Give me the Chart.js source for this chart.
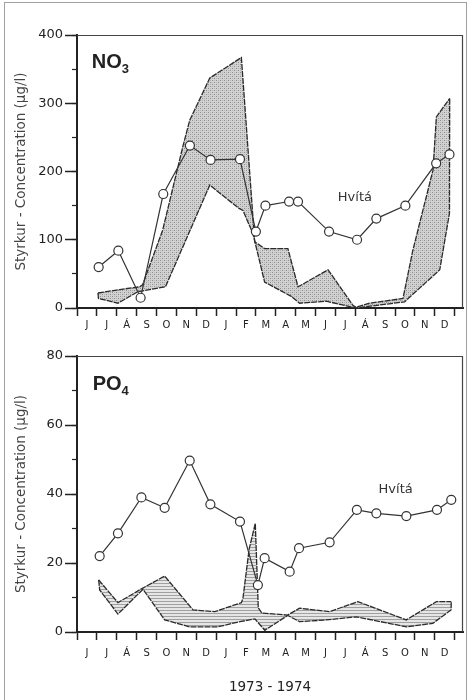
<!DOCTYPE html>
<html>
<head>
<meta charset="utf-8">
<script src="https://cdn.jsdelivr.net/npm/chart.js@4.4.0/dist/chart.umd.min.js"></script>
<style>
  body { margin: 0; background: #fff; width: 470px; height: 700px; overflow: hidden; position: relative; }
  #border { position: absolute; left: 4px; top: 2px; width: 461px; height: 720px; border: 1px solid #a0a0a0; }
  canvas { position: absolute; left: 0; }
  #no3 { top: 0; }
  #po4 { top: 340px; }
</style>
</head>
<body>
<div id="border"></div>
<canvas id="no3" width="470" height="340"></canvas>
<canvas id="po4" width="470" height="360"></canvas>
<script>
// months Jun 1973 - Dec 1974, one label per month band
var months = ["J", "J", "Á", "S", "O", "N", "D", "J", "F", "M", "A", "M", "J", "J", "Á", "S", "O", "N", "D"];
var yTitle = "Styrkur - Concentration (µg/l)";

// NO3 - Hvítá (x = months since 1 June 1973)
var no3HvitaX = [1.09, 2.08, 3.2, 4.34, 5.68, 6.72, 8.2, 9.0, 9.48, 10.67, 11.12, 12.68, 14.09, 15.06, 16.52, 18.07, 18.74];
var no3HvitaY = [60, 84, 15, 167, 238, 217, 218, 112, 150, 156, 156, 112, 100, 131, 150, 212, 225];
// NO3 - shaded range
var no3UpperX = [1.055, 2.15, 3.15, 3.3, 4.31, 5.32, 5.67, 6.68, 8.27, 8.94, 9.44, 10.61, 11.12, 12.63, 13.88, 14.04, 14.72, 16.4, 16.9, 17.91, 18.08, 18.75];
var no3UpperY = [22, 27, 31, 34, 114, 236, 275, 337, 367, 97, 87, 87, 31, 56, 4, 1, 7, 14, 85, 202, 280, 307];
var no3LowerX = [1.055, 1.08, 2.06, 3.07, 4.45, 6.68, 8.15, 8.35, 8.85, 9.44, 10.78, 11.2, 12.54, 14.02, 16.48, 18.25, 18.74, 18.75];
var no3LowerY = [22, 14, 7, 24, 31, 180, 146, 143, 109, 38, 17, 7, 10, 0, 9, 56, 139, 307];

// PO4 - Hvítá
var po4HvitaX = [1.14, 2.06, 3.24, 4.41, 5.67, 6.71, 8.2, 9.1, 9.44, 10.7, 11.17, 12.71, 14.08, 15.06, 16.57, 18.11, 18.83];
var po4HvitaY = [22, 28.6, 39, 36, 49.7, 37, 32, 13.6, 21.4, 17.5, 24.3, 26, 35.4, 34.4, 33.6, 35.4, 38.3];
// PO4 - shaded range
var po4UpperX = [1.09, 2.06, 3.15, 4.41, 5.84, 6.93, 8.27, 8.35, 8.66, 8.97, 9.12, 9.3, 10.6, 11.2, 12.71, 14.13, 16.57, 18.08, 18.83];
var po4UpperY = [15.1, 8.5, 12.2, 16.2, 6.4, 5.9, 8.5, 9.8, 24, 31.5, 7, 5.5, 4.9, 6.9, 5.9, 8.8, 3.5, 8.8, 8.8];
var po4LowerX = [1.09, 1.14, 2.06, 3.32, 4.41, 5.67, 7.08, 8.2, 8.95, 9.45, 10.6, 11.2, 12.54, 14.05, 16.57, 17.9, 18.82, 18.83];
var po4LowerY = [15.1, 12.2, 5.2, 12.4, 3.5, 1.5, 1.5, 3, 3.8, 0.5, 4.8, 3, 3.5, 4.4, 1.5, 2.5, 6.4, 8.8];

function pts(xs, ys) {
  return xs.map(function (x, i) { return { x: x, y: ys[i] }; });
}

function dotPattern() {
  var c = document.createElement("canvas");
  c.width = 4; c.height = 4;
  var g = c.getContext("2d");
  g.fillStyle = "#d2d2d2"; g.fillRect(0, 0, 4, 4);
  g.fillStyle = "#8e8e8e"; g.fillRect(0, 0, 1, 1); g.fillRect(2, 2, 1, 1);
  g.fillStyle = "#b4b4b4"; g.fillRect(2, 0, 1, 1); g.fillRect(0, 2, 1, 1);
  return g.createPattern(c, "repeat");
}

function linePattern() {
  var c = document.createElement("canvas");
  c.width = 4; c.height = 3;
  var g = c.getContext("2d");
  g.fillStyle = "#e6e6e6"; g.fillRect(0, 0, 4, 3);
  g.fillStyle = "#a0a0a0"; g.fillRect(0, 0, 4, 1);
  return g.createPattern(c, "repeat");
}

// box frame + panel labels
var frame = {
  id: "frame",
  afterDraw: function (chart) {
    var a = chart.chartArea, g = chart.ctx, o = chart.options.plugins.frame;
    var sx = chart.scales.x, sy = chart.scales.y;
    g.save();
    g.strokeStyle = "#444";
    g.lineWidth = 1.2;
    g.beginPath();
    g.moveTo(a.left, a.top + 0.5);
    g.lineTo(a.right - 0.5, a.top + 0.5);
    g.lineTo(a.right - 0.5, a.bottom);
    g.stroke();

    g.fillStyle = "#222";
    g.textBaseline = "alphabetic";
    g.font = "bold 20px 'Liberation Sans'";
    var x0 = sx.getPixelForValue(o.name[0]), y0 = sy.getPixelForValue(o.name[1]);
    g.fillText(o.name[2], x0, y0);
    var w = g.measureText(o.name[2]).width;
    g.font = "bold 13px 'Liberation Sans'";
    g.fillText(o.name[3], x0 + w, y0 + 5);

    g.font = "13px 'DejaVu Sans'";
    g.fillStyle = "#333";
    g.textAlign = "center";
    g.textBaseline = "middle";
    g.fillText("Hvítá", sx.getPixelForValue(o.river[0]), sy.getPixelForValue(o.river[1]));
    g.restore();
  }
};

function makeChart(id, hvita, upper, lower, fillStyle, ymax, step, minor, pad, tickPad, xTitle, name, river) {
  var lineCol = "#2a2a2a";
  return new Chart(document.getElementById(id), {
    type: "line",
    data: {
      datasets: [{
        label: "Hvítá",
        data: hvita,
        borderColor: "#333",
        borderWidth: 1.2,
        pointRadius: 4.5,
        pointBackgroundColor: "#fff",
        pointBorderColor: "#333",
        pointBorderWidth: 1.2,
        fill: false
      }, {
        label: "lower",
        data: lower,
        borderColor: lineCol,
        borderWidth: 1.3,
        borderDash: [6, 1],
        pointRadius: 0,
        fill: false
      }, {
        label: "upper",
        data: upper,
        borderColor: lineCol,
        borderWidth: 1.3,
        borderDash: [6, 1],
        pointRadius: 0,
        backgroundColor: fillStyle,
        fill: "-1"
      }]
    },
    options: {
      responsive: false,
      animation: false,
      events: [],
      layout: { padding: { top: pad, right: 7, left: 0, bottom: 0 } },
      elements: { line: { tension: 0 } },
      plugins: {
        legend: { display: false },
        tooltip: { enabled: false },
        frame: { name: name, river: river }
      },
      scales: {
        x: {
          type: "linear",
          min: 0,
          max: 19.42,
          afterFit: function (s) { s.height = xTitle ? 68 : 32; },
          afterBuildTicks: function (s) {
            var t = [];
            for (var i = 0; i <= 38; i++) t.push({ value: i / 2 });
            s.ticks = t;
          },
          ticks: {
            autoSkip: false,
            maxRotation: 0,
            padding: tickPad,
            color: "#222",
            font: { family: "DejaVu Sans", size: 10 },
            callback: function (v) { return v % 1 ? months[v - 0.5] : ""; }
          },
          grid: {
            drawOnChartArea: false,
            tickLength: 8,
            tickWidth: 1.5,
            tickColor: function (c) { return c.tick && c.tick.value % 1 === 0 ? "#222" : "rgba(0,0,0,0)"; }
          },
          border: { color: "#222", width: 2 },
          title: {
            display: !!xTitle,
            text: xTitle,
            color: "#222",
            font: { family: "DejaVu Sans", size: 13.5 },
            padding: { top: 0, bottom: 4 }
          }
        },
        y: {
          min: 0,
          max: ymax,
          afterFit: function (s) { s.width = 77; },
          ticks: { stepSize: step, padding: 2, color: "#222", font: { family: "DejaVu Sans", size: 13 } },
          grid: { drawOnChartArea: false, tickLength: 12, tickWidth: 1.5, tickColor: "#222" },
          border: { color: "#222", width: 2 },
          title: {
            display: true,
            text: yTitle,
            color: "#444",
            font: { family: "DejaVu Sans", size: 13.5 },
            padding: { top: 13.5, bottom: 0 }
          }
        },
        yMinor: {
          axis: "y",
          position: { x: 0 },
          min: 0,
          max: ymax,
          ticks: { stepSize: minor, display: false },
          grid: { drawOnChartArea: false, tickLength: 5, tickWidth: 1.2, tickColor: "#222" },
          border: { display: false }
        }
      }
    },
    plugins: [frame]
  });
}

makeChart("no3", pts(no3HvitaX, no3HvitaY), pts(no3UpperX, no3UpperY), pts(no3LowerX, no3LowerY),
  dotPattern(), 400, 100, 50, 35, 3, "", [0.74, 352, "NO", "3"], [13.98, 161]);

makeChart("po4", pts(po4HvitaX, po4HvitaY), pts(po4UpperX, po4UpperY), pts(po4LowerX, po4LowerY),
  linePattern(), 80, 20, 10, 16, 7, "1973 - 1974", [0.79, 70.1, "PO", "4"], [16.03, 41.2]);
</script>
</body>
</html>
